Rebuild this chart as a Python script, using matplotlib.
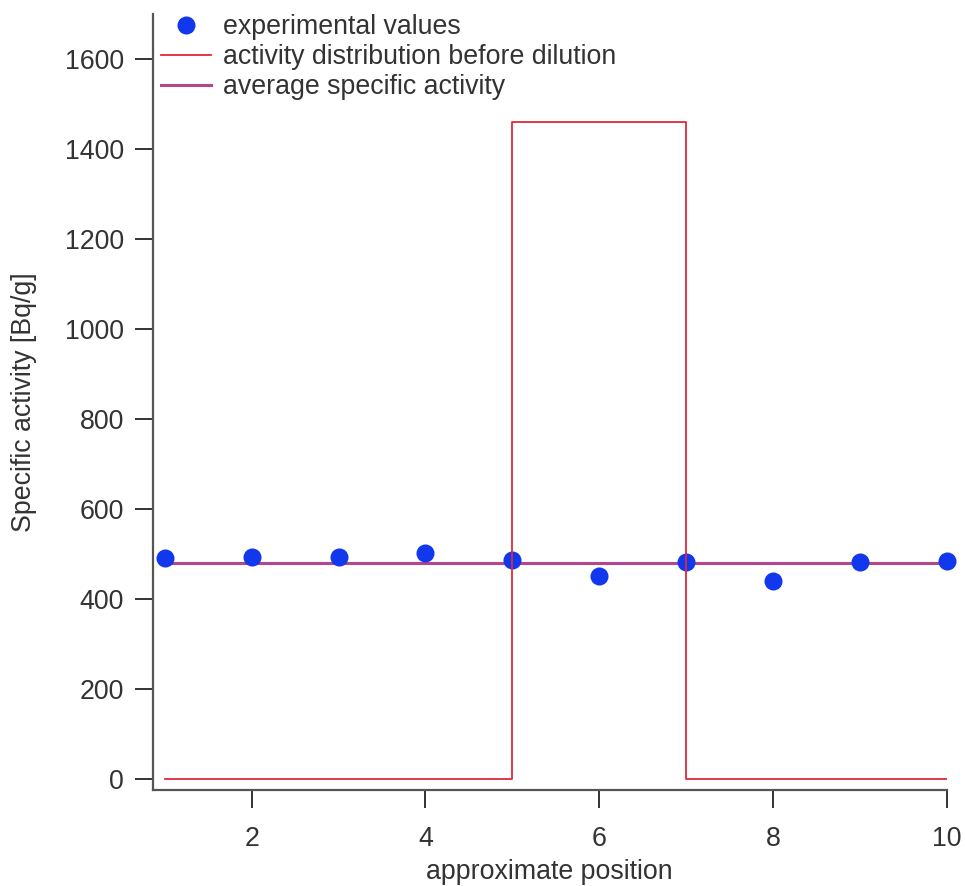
import matplotlib
matplotlib.use("Agg")
import matplotlib.pyplot as plt

plt.rcParams['font.family'] = ['Liberation Sans', 'DejaVu Sans']

# measured specific activity at each position
positions = [1, 2, 3, 4, 5, 6, 7, 8, 9, 10]
activity = [490, 493, 493, 501, 486, 451, 481, 440, 482, 484]

# activity distribution before dilution (step profile)
step_x = [1, 5, 5, 7, 7, 10]
step_y = [0, 0, 1460, 1460, 0, 0]

# average specific activity
avg_x = [1, 10]
avg_value = 480

x_ticks = [2, 4, 6, 8, 10]
y_ticks = [0, 200, 400, 600, 800, 1000, 1200, 1400, 1600]

FS = 19.3
TXT = '#333333'

fig = plt.figure(figsize=(9.65, 8.86), dpi=100)
ax = fig.add_axes([0.1582, 0.1084, 0.981 - 0.1582, 0.9842 - 0.1084])

ax.plot(avg_x, [avg_value, avg_value], color='#b5468e', lw=2.2, zorder=2,
        label='average specific activity')
ax.plot(positions, activity, 'o', color='#1238ee', markersize=13, mec='none',
        zorder=3, clip_on=False, label='experimental values')
ax.plot(step_x, step_y, color='#e2283a', lw=1.3, zorder=4,
        label='activity distribution before dilution')

ax.set_xlim(0.86, 10)
ax.set_ylim(-25, 1700)
ax.set_xticks(x_ticks)
ax.set_yticks(y_ticks)

for side in ('top', 'right'):
    ax.spines[side].set_visible(False)
for side in ('left', 'bottom'):
    ax.spines[side].set_color('#555555')
    ax.spines[side].set_linewidth(1.6)

ax.tick_params(axis='both', direction='out', length=13, width=1.4,
               color=TXT, labelcolor=TXT, labelsize=FS)
ax.tick_params(axis='x', pad=13)
ax.tick_params(axis='y', pad=7.5)

ax.set_xlabel('approximate position', fontsize=FS, color=TXT, labelpad=5)
ax.set_ylabel('Specific activity [Bq/g]', fontsize=FS, color=TXT, labelpad=20)

handles, labels = ax.get_legend_handles_labels()
order = [1, 2, 0]
leg = fig.legend([handles[i] for i in order], [labels[i] for i in order],
                 loc='upper left', bbox_to_anchor=(160.7 / 965, 1 - 14.0 / 886),
                 frameon=False, fontsize=FS, handlelength=1.87,
                 handletextpad=0.45, labelspacing=0.15, borderpad=0,
                 borderaxespad=0, numpoints=1)
for t in leg.get_texts():
    t.set_color(TXT)

fig.savefig('out.png', dpi=100)
